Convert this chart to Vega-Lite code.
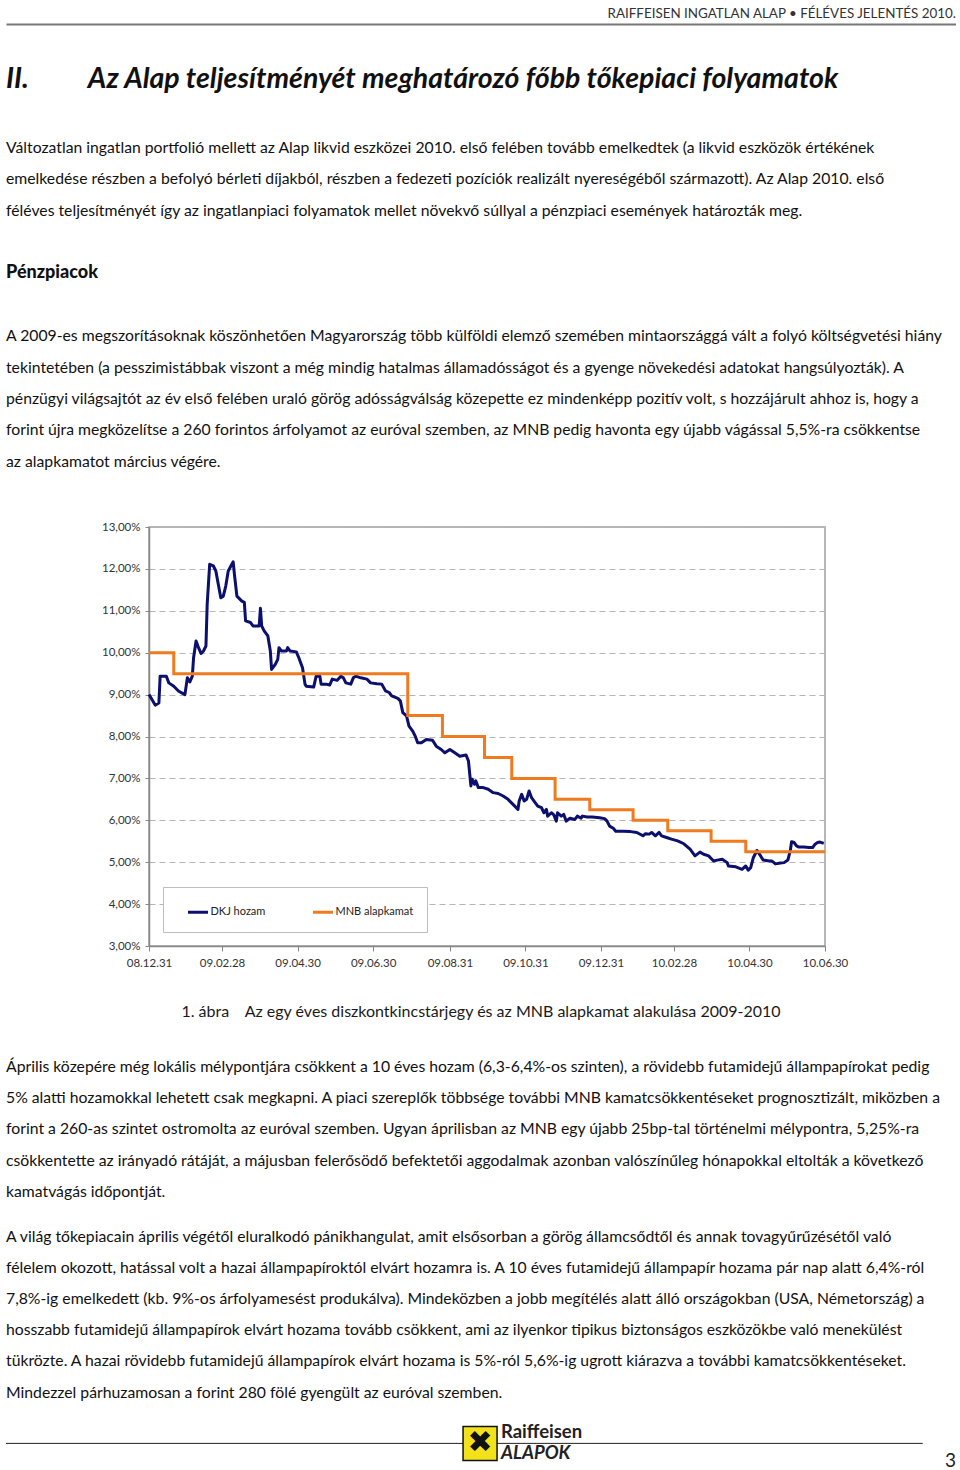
{
  "$schema": "https://vega.github.io/schema/vega-lite/v6.json",
  "padding": {"left": 5, "top": 0, "right": 0, "bottom": 0},
  "background": "white",
  "bounds": "full",
  "spacing": 0,
  "resolve": {"scale": {"color": "independent"}, "legend": {"color": "independent"}},
  "config": {"font": "Lato", "view": {"stroke": null}},
  "datasets": {
    "dkj": [
      {"d":"2008-12-31","v":9.00},{"d":"2009-01-05","v":8.75},{"d":"2009-01-08","v":8.80},{"d":"2009-01-09","v":9.44},{"d":"2009-01-14","v":9.44},{"d":"2009-01-16","v":9.28},{"d":"2009-01-20","v":9.20},{"d":"2009-01-24","v":9.08},{"d":"2009-01-29","v":9.00},{"d":"2009-01-31","v":9.40},
      {"d":"2009-02-02","v":9.30},{"d":"2009-02-04","v":9.44},{"d":"2009-02-05","v":9.88},{"d":"2009-02-07","v":10.28},{"d":"2009-02-09","v":10.12},{"d":"2009-02-11","v":9.98},{"d":"2009-02-13","v":10.04},{"d":"2009-02-15","v":10.16},{"d":"2009-02-16","v":11.16},{"d":"2009-02-18","v":12.11},
      {"d":"2009-02-21","v":12.07},{"d":"2009-02-23","v":11.95},{"d":"2009-02-25","v":11.63},{"d":"2009-02-27","v":11.31},{"d":"2009-03-01","v":11.35},{"d":"2009-03-03","v":11.59},{"d":"2009-03-05","v":11.95},{"d":"2009-03-09","v":12.17},{"d":"2009-03-10","v":11.87},{"d":"2009-03-12","v":11.35},
      {"d":"2009-03-16","v":11.23},{"d":"2009-03-18","v":11.20},{"d":"2009-03-19","v":10.76},{"d":"2009-03-23","v":10.72},{"d":"2009-03-25","v":10.64},{"d":"2009-03-30","v":10.64},{"d":"2009-03-31","v":11.06},{"d":"2009-04-01","v":10.64},{"d":"2009-04-03","v":10.52},{"d":"2009-04-06","v":10.40},
      {"d":"2009-04-08","v":10.04},{"d":"2009-04-09","v":9.60},{"d":"2009-04-12","v":9.72},{"d":"2009-04-14","v":9.84},{"d":"2009-04-15","v":10.12},{"d":"2009-04-17","v":10.04},{"d":"2009-04-21","v":10.04},{"d":"2009-04-22","v":10.12},{"d":"2009-04-24","v":10.04},{"d":"2009-04-29","v":10.02},
      {"d":"2009-05-01","v":9.88},{"d":"2009-05-04","v":9.64},{"d":"2009-05-06","v":9.25},{"d":"2009-05-07","v":9.20},{"d":"2009-05-13","v":9.18},{"d":"2009-05-15","v":9.44},{"d":"2009-05-18","v":9.44},{"d":"2009-05-19","v":9.25},{"d":"2009-05-23","v":9.25},{"d":"2009-05-26","v":9.23},
      {"d":"2009-05-28","v":9.37},{"d":"2009-06-01","v":9.34},{"d":"2009-06-04","v":9.44},{"d":"2009-06-06","v":9.40},{"d":"2009-06-08","v":9.28},{"d":"2009-06-12","v":9.25},{"d":"2009-06-14","v":9.40},{"d":"2009-06-16","v":9.44},{"d":"2009-06-20","v":9.40},{"d":"2009-06-25","v":9.37},
      {"d":"2009-06-28","v":9.28},{"d":"2009-07-03","v":9.26},{"d":"2009-07-07","v":9.25},{"d":"2009-07-10","v":9.09},{"d":"2009-07-13","v":9.05},{"d":"2009-07-15","v":8.97},{"d":"2009-07-20","v":8.91},{"d":"2009-07-22","v":8.85},{"d":"2009-07-24","v":8.57},{"d":"2009-07-27","v":8.49},
      {"d":"2009-07-29","v":8.25},{"d":"2009-08-01","v":8.13},{"d":"2009-08-03","v":8.01},{"d":"2009-08-05","v":7.85},{"d":"2009-08-08","v":7.85},{"d":"2009-08-12","v":7.93},{"d":"2009-08-17","v":7.91},{"d":"2009-08-20","v":7.77},{"d":"2009-08-24","v":7.69},{"d":"2009-08-27","v":7.61},
      {"d":"2009-08-31","v":7.69},{"d":"2009-09-04","v":7.61},{"d":"2009-09-08","v":7.53},{"d":"2009-09-13","v":7.56},{"d":"2009-09-15","v":7.42},{"d":"2009-09-17","v":6.82},{"d":"2009-09-18","v":6.98},{"d":"2009-09-20","v":6.86},{"d":"2009-09-21","v":6.94},{"d":"2009-09-23","v":6.78},
      {"d":"2009-09-27","v":6.78},{"d":"2009-10-01","v":6.74},{"d":"2009-10-05","v":6.66},{"d":"2009-10-09","v":6.64},{"d":"2009-10-13","v":6.58},{"d":"2009-10-17","v":6.50},{"d":"2009-10-21","v":6.38},{"d":"2009-10-25","v":6.26},{"d":"2009-10-26","v":6.46},{"d":"2009-10-28","v":6.62},
      {"d":"2009-10-30","v":6.46},{"d":"2009-11-01","v":6.50},{"d":"2009-11-03","v":6.70},{"d":"2009-11-05","v":6.54},{"d":"2009-11-07","v":6.46},{"d":"2009-11-10","v":6.34},{"d":"2009-11-13","v":6.30},{"d":"2009-11-15","v":6.18},{"d":"2009-11-17","v":6.26},{"d":"2009-11-18","v":6.10},
      {"d":"2009-11-21","v":6.18},{"d":"2009-11-23","v":6.13},{"d":"2009-11-25","v":5.98},{"d":"2009-11-26","v":6.18},{"d":"2009-11-29","v":6.10},{"d":"2009-12-01","v":6.14},{"d":"2009-12-03","v":5.98},{"d":"2009-12-06","v":6.05},{"d":"2009-12-10","v":6.02},{"d":"2009-12-12","v":6.10},
      {"d":"2009-12-15","v":6.05},{"d":"2009-12-16","v":6.10},{"d":"2009-12-20","v":6.08},{"d":"2009-12-24","v":6.08},{"d":"2009-12-30","v":6.06},{"d":"2010-01-03","v":6.04},{"d":"2010-01-05","v":5.98},{"d":"2010-01-07","v":5.86},{"d":"2010-01-10","v":5.81},{"d":"2010-01-12","v":5.74},
      {"d":"2010-01-18","v":5.74},{"d":"2010-01-24","v":5.73},{"d":"2010-01-29","v":5.71},{"d":"2010-02-03","v":5.63},{"d":"2010-02-05","v":5.68},{"d":"2010-02-08","v":5.67},{"d":"2010-02-10","v":5.71},{"d":"2010-02-13","v":5.63},{"d":"2010-02-16","v":5.71},{"d":"2010-02-18","v":5.63},
      {"d":"2010-02-22","v":5.59},{"d":"2010-02-26","v":5.55},{"d":"2010-03-03","v":5.51},{"d":"2010-03-08","v":5.44},{"d":"2010-03-13","v":5.31},{"d":"2010-03-17","v":5.15},{"d":"2010-03-21","v":5.24},{"d":"2010-03-24","v":5.19},{"d":"2010-03-28","v":5.15},{"d":"2010-04-01","v":5.03},
      {"d":"2010-04-04","v":5.05},{"d":"2010-04-08","v":5.07},{"d":"2010-04-12","v":4.99},{"d":"2010-04-13","v":4.91},{"d":"2010-04-19","v":4.89},{"d":"2010-04-24","v":4.83},{"d":"2010-04-27","v":4.91},{"d":"2010-04-29","v":4.81},{"d":"2010-05-01","v":4.87},{"d":"2010-05-03","v":5.10},
      {"d":"2010-05-06","v":5.28},{"d":"2010-05-09","v":5.15},{"d":"2010-05-11","v":5.05},{"d":"2010-05-16","v":5.03},{"d":"2010-05-18","v":5.03},{"d":"2010-05-21","v":4.96},{"d":"2010-05-25","v":4.98},{"d":"2010-05-28","v":4.99},{"d":"2010-05-31","v":5.05},{"d":"2010-06-02","v":5.28},
      {"d":"2010-06-03","v":5.49},{"d":"2010-06-05","v":5.47},{"d":"2010-06-07","v":5.39},{"d":"2010-06-09","v":5.36},{"d":"2010-06-13","v":5.36},{"d":"2010-06-17","v":5.35},{"d":"2010-06-20","v":5.35},{"d":"2010-06-22","v":5.43},{"d":"2010-06-24","v":5.47},{"d":"2010-06-26","v":5.48},
      {"d":"2010-06-29","v":5.45}
    ],
    "mnb": [
      {"d":"2008-12-31","v":10.00},{"d":"2009-01-20","v":9.50},{"d":"2009-07-28","v":8.50},{"d":"2009-08-25","v":8.00},{"d":"2009-09-28","v":7.50},{"d":"2009-10-20","v":7.00},{"d":"2009-11-24","v":6.50},{"d":"2009-12-22","v":6.25},{"d":"2010-01-26","v":6.00},{"d":"2010-02-23","v":5.75},{"d":"2010-03-30","v":5.50},{"d":"2010-04-27","v":5.25},{"d":"2010-06-30","v":5.25}
    ]
  },
  "vconcat": [
    {
      "width": 950, "height": 24,
      "data": {"values": [{"text": "RAIFFEISEN INGATLAN ALAP • FÉLÉVES JELENTÉS 2010."}]},
      "mark": {"type": "text", "align": "right", "baseline": "middle", "dy": 2, "fontSize": 13.4, "color": "#333333"},
      "encoding": {
        "text": {"field": "text"},
        "x": {"datum": 1, "type": "quantitative", "scale": {"domain": [0, 1]},
              "axis": {"orient": "bottom", "domain": true, "domainColor": "#777777", "domainWidth": 2, "ticks": false, "labels": false, "grid": false, "title": null}}
      }
    },
    {
      "width": 950, "height": 106,
      "data": {"values": [{"text": "II.\u2003\u2003\u2002\u2005Az Alap teljesítményét meghatározó főbb tőkepiaci folyamatok"}]},
      "mark": {"type": "text", "align": "left", "baseline": "middle", "dy": 2, "fontSize": 28.5, "fontWeight": "bold", "fontStyle": "italic", "color": "#111111"},
      "encoding": {
        "text": {"field": "text"},
        "x": {"datum": 0, "type": "quantitative", "scale": {"domain": [0, 1]}, "axis": null}
      }
    },
    {
      "width": 950, "height": 345.4,
      "data": {"values": [
        {"line": 0, "kind": "p", "text": "Változatlan ingatlan portfolió mellett az Alap likvid eszközei 2010. első felében tovább emelkedtek (a likvid eszközök értékének"},
        {"line": 1, "kind": "p", "text": "emelkedése részben a befolyó bérleti díjakból, részben a fedezeti pozíciók realizált nyereségéből származott). Az Alap 2010. első"},
        {"line": 2, "kind": "p", "text": "féléves teljesítményét így az ingatlanpiaci folyamatok mellet növekvő súllyal a pénzpiaci események határozták meg."},
        {"line": 4, "kind": "h", "text": "Pénzpiacok"},
        {"line": 6, "kind": "p", "text": "A 2009-es megszorításoknak köszönhetően Magyarország több külföldi elemző szemében mintaországgá vált a folyó költségvetési hiány"},
        {"line": 7, "kind": "p", "text": "tekintetében (a pesszimistábbak viszont a még mindig hatalmas államadósságot és a gyenge növekedési adatokat hangsúlyozták). A"},
        {"line": 8, "kind": "p", "text": "pénzügyi világsajtót az év első felében uraló görög adósságválság közepette ez mindenképp pozitív volt, s hozzájárult ahhoz is, hogy a"},
        {"line": 9, "kind": "p", "text": "forint újra megközelítse a 260 forintos árfolyamot az euróval szemben, az MNB pedig havonta egy újabb vágással 5,5%-ra csökkentse"},
        {"line": 10, "kind": "p", "text": "az alapkamatot március végére."}
      ]},
      "encoding": {
        "text": {"field": "text"},
        "y": {"field": "line", "type": "quantitative", "scale": {"domain": [-0.5, 10.5], "reverse": true}, "axis": null},
        "x": {"datum": 0, "type": "quantitative", "scale": {"domain": [0, 1]}, "axis": null}
      },
      "layer": [
        {"transform": [{"filter": "datum.kind === 'p'"}], "mark": {"type": "text", "align": "left", "baseline": "middle", "dy": 2, "fontSize": 15.75, "color": "#111111"}},
        {"transform": [{"filter": "datum.kind === 'h'"}], "mark": {"type": "text", "align": "left", "baseline": "middle", "dy": 2, "fontSize": 18, "fontWeight": 900, "color": "#111111"}}
      ]
    },
    {"width": 950, "height": 43.6, "data": {"values": []}, "mark": "text"},
    {
      "spacing": 0,
      "bounds": "flush",
      "resolve": {"scale": {"color": "independent"}, "legend": {"color": "independent"}},
      "hconcat": [
        {"width": 143, "height": 419, "data": {"values": []}, "mark": "text"},
        {
          "width": 676, "height": 419,
          "view": {"stroke": "#a0a0a0", "strokeWidth": 1.5},
          "title": {"text": "1. ábra\u2003 Az egy éves diszkontkincstárjegy és az MNB alapkamat alakulása 2009-2010", "orient": "bottom", "anchor": "middle", "offset": 35, "fontSize": 16, "fontWeight": "normal", "color": "#1a1a1a", "dx": -6},
          "encoding": {
            "x": {"field": "d", "type": "temporal",
                  "scale": {"domain": [{"year": 2008, "month": 12, "date": 31}, {"year": 2010, "month": 6, "date": 30}]},
                  "axis": {"values": [{"year": 2008, "month": 12, "date": 31}, {"year": 2009, "month": 2, "date": 28}, {"year": 2009, "month": 4, "date": 30}, {"year": 2009, "month": 6, "date": 30}, {"year": 2009, "month": 8, "date": 31}, {"year": 2009, "month": 10, "date": 31}, {"year": 2009, "month": 12, "date": 31}, {"year": 2010, "month": 2, "date": 28}, {"year": 2010, "month": 4, "date": 30}, {"year": 2010, "month": 6, "date": 30}],
                           "format": "%y.%m.%d", "labelFlush": false, "labelOverlap": false, "grid": false, "title": null,
                           "domainColor": "#888888", "domainWidth": 1.5, "tickColor": "#888888", "tickSize": 5, "labelPadding": 6, "labelFontSize": 11.5, "labelColor": "#333333"}},
            "y": {"field": "v", "type": "quantitative",
                  "scale": {"domain": [3, 13], "nice": false, "zero": false},
                  "axis": {"values": [3, 4, 5, 6, 7, 8, 9, 10, 11, 12, 13],
                           "labelExpr": "replace(format(datum.value, '.2f'), '.', ',') + '%'",
                           "grid": true, "gridDash": [6, 4], "gridColor": "#b5b5b5", "gridWidth": 1,
                           "domainColor": "#888888", "domainWidth": 1.5, "tickColor": "#888888", "tickSize": 4, "labelPadding": 5, "labelFontSize": 11.5, "labelColor": "#333333", "title": null}}
          },
          "layer": [
            {
              "data": {"name": "dkj"},
              "mark": {"type": "line", "strokeWidth": 3, "strokeJoin": "round"},
              "encoding": {
                "color": {"datum": "DKJ hozam",
                          "scale": {"domain": ["DKJ hozam", "MNB alapkamat"], "range": ["#0b0f6e", "#f07a1e"]},
                          "legend": {"orient": "bottom-left", "offset": 14, "direction": "horizontal", "title": null,
                                     "strokeColor": "#bdbdbd", "fillColor": "#ffffff", "padding": 13.5,
                                     "symbolType": "stroke", "symbolStrokeWidth": 3, "symbolSize": 400,
                                     "labelFontSize": 11, "labelColor": "#222222", "columnPadding": 36, "labelOffset": 1, "symbolOffset": 10}}
              }
            },
            {
              "data": {"name": "mnb"},
              "mark": {"type": "line", "interpolate": "step-after", "strokeWidth": 3},
              "encoding": {"color": {"datum": "MNB alapkamat"}}
            }
          ]
        }
      ]
    },
    {"width": 950, "height": 27.4, "data": {"values": []}, "mark": "text"},
    {
      "width": 950, "height": 156.5,
      "data": {"values": [
        {"line": 0, "text": "Április közepére még lokális mélypontjára csökkent a 10 éves hozam (6,3-6,4%-os szinten), a rövidebb futamidejű állampapírokat pedig"},
        {"line": 1, "text": "5% alatti hozamokkal lehetett csak megkapni. A piaci szereplők többsége további MNB kamatcsökkentéseket prognosztizált, miközben a"},
        {"line": 2, "text": "forint a 260-as szintet ostromolta az euróval szemben. Ugyan áprilisban az MNB egy újabb 25bp-tal történelmi mélypontra, 5,25%-ra"},
        {"line": 3, "text": "csökkentette az irányadó rátáját, a májusban felerősödő befektetői aggodalmak azonban valószínűleg hónapokkal eltolták a következő"},
        {"line": 4, "text": "kamatvágás időpontját."}
      ]},
      "mark": {"type": "text", "align": "left", "baseline": "middle", "dy": 2, "fontSize": 15.75, "color": "#111111"},
      "encoding": {
        "text": {"field": "text"},
        "y": {"field": "line", "type": "quantitative", "scale": {"domain": [-0.5, 4.5], "reverse": true}, "axis": null},
        "x": {"datum": 0, "type": "quantitative", "scale": {"domain": [0, 1]}, "axis": null}
      }
    },
    {"width": 950, "height": 12.5, "data": {"values": []}, "mark": "text"},
    {
      "width": 950, "height": 187.2,
      "data": {"values": [
        {"line": 0, "text": "A világ tőkepiacain április végétől eluralkodó pánikhangulat, amit elsősorban a görög államcsődtől és annak tovagyűrűzésétől való"},
        {"line": 1, "text": "félelem okozott, hatással volt a hazai állampapíroktól elvárt hozamra is. A 10 éves futamidejű állampapír hozama pár nap alatt 6,4%-ról"},
        {"line": 2, "text": "7,8%-ig emelkedett (kb. 9%-os árfolyamesést produkálva). Mindeközben a jobb megítélés alatt álló országokban (USA, Németország) a"},
        {"line": 3, "text": "hosszabb futamidejű állampapírok elvárt hozama tovább csökkent, ami az ilyenkor tipikus biztonságos eszközökbe való menekülést"},
        {"line": 4, "text": "tükrözte. A hazai rövidebb futamidejű állampapírok elvárt hozama is 5%-ról 5,6%-ig ugrott kiárazva a további kamatcsökkentéseket."},
        {"line": 5, "text": "Mindezzel párhuzamosan a forint 280 fölé gyengült az euróval szemben."}
      ]},
      "mark": {"type": "text", "align": "left", "baseline": "middle", "dy": 2, "fontSize": 15.75, "color": "#111111"},
      "encoding": {
        "text": {"field": "text"},
        "y": {"field": "line", "type": "quantitative", "scale": {"domain": [-0.5, 5.5], "reverse": true}, "axis": null},
        "x": {"datum": 0, "type": "quantitative", "scale": {"domain": [0, 1]}, "axis": null}
      }
    },
    {
      "width": 950, "height": 64.4,
      "encoding": {
        "x": {"datum": 0, "type": "quantitative", "scale": {"domain": [0, 1]}, "axis": null},
        "y": {"datum": 0.565, "type": "quantitative", "scale": {"domain": [0, 1], "reverse": true}, "axis": null}
      },
      "layer": [
        {
          "data": {"values": [{"item": "footer line"}]},
          "mark": {"type": "rule", "color": "#222222", "strokeWidth": 1},
          "encoding": {"x2": {"datum": 0.965}}
        },
        {
          "data": {"values": [{"item": "logo"}]},
          "mark": {"type": "square", "size": 1156, "filled": true, "color": "#f2e21b", "stroke": "#111111", "strokeWidth": 1.5, "opacity": 1},
          "encoding": {"x": {"datum": 0.499, "type": "quantitative"}}
        },
        {
          "data": {"values": [{"text": "✖"}]},
          "mark": {"type": "text", "font": "DejaVu Sans", "fontSize": 30, "align": "center", "baseline": "middle", "color": "#111111"},
          "encoding": {"text": {"field": "text"}, "x": {"datum": 0.499, "type": "quantitative"}}
        },
        {
          "data": {"values": [{"text": "Raiffeisen"}]},
          "mark": {"type": "text", "fontSize": 18.5, "fontWeight": "bold", "align": "left", "baseline": "middle", "color": "#222222"},
          "encoding": {"text": {"field": "text"}, "x": {"datum": 0.521, "type": "quantitative"}, "y": {"datum": 0.39, "type": "quantitative"}}
        },
        {
          "data": {"values": [{"text": "ALAPOK"}]},
          "mark": {"type": "text", "fontSize": 18.5, "fontWeight": "bold", "fontStyle": "italic", "align": "left", "baseline": "middle", "color": "#222222"},
          "encoding": {"text": {"field": "text"}, "x": {"datum": 0.521, "type": "quantitative"}, "y": {"datum": 0.72, "type": "quantitative"}}
        },
        {
          "data": {"values": [{"text": "3"}]},
          "mark": {"type": "text", "fontSize": 19, "align": "right", "baseline": "middle", "color": "#222222"},
          "encoding": {"text": {"field": "text"}, "x": {"datum": 1, "type": "quantitative"}, "y": {"datum": 0.845, "type": "quantitative"}}
        }
      ]
    }
  ]
}
